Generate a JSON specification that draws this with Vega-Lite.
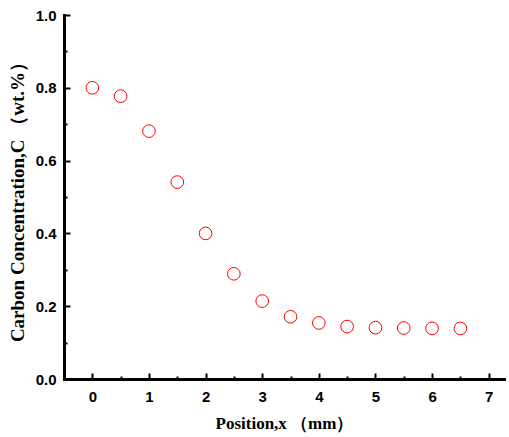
{
  "$schema": "https://vega.github.io/schema/vega-lite/v6.json",
  "autosize": "none",
  "width": 440,
  "height": 364,
  "padding": {"left": 64, "top": 15, "right": 5, "bottom": 58},
  "background": "white",
  "config": {
    "view": {"stroke": null},
    "axis": {"grid": false, "domainColor": "black", "domainWidth": 3, "domainCap": "square", "tickColor": "black", "tickWidth": 2,
      "labelFont": "Liberation Sans", "labelFontWeight": "bold", "labelFontSize": 15, "labelColor": "black",
      "titleFont": "Liberation Serif", "titleFontWeight": "bold", "titleColor": "black"}
  },
  "data": {"values": [
    {"x": 0, "c": 0.800},
    {"x": 0.5, "c": 0.777},
    {"x": 1, "c": 0.681},
    {"x": 1.5, "c": 0.541},
    {"x": 2, "c": 0.400},
    {"x": 2.5, "c": 0.289},
    {"x": 3, "c": 0.214},
    {"x": 3.5, "c": 0.171},
    {"x": 4, "c": 0.154},
    {"x": 4.5, "c": 0.144},
    {"x": 5, "c": 0.141},
    {"x": 5.5, "c": 0.140},
    {"x": 6, "c": 0.139},
    {"x": 6.5, "c": 0.139}
  ]},
  "resolve": {"axis": {"x": "independent", "y": "independent"}},
  "layer": [
    {
      "mark": {"type": "point", "opacity": 0},
      "encoding": {
        "x": {"field": "x", "type": "quantitative",
          "scale": {"domain": [-0.5, 7.27], "nice": false, "zero": false},
          "axis": {"orient": "bottom", "offset": -3, "values": [0.5,1.5,2.5,3.5,4.5,5.5,6.5], "labels": false, "title": null, "domain": false, "tickSize": 3}},
        "y": {"field": "c", "type": "quantitative",
          "scale": {"domain": [0, 1], "nice": false},
          "axis": {"orient": "left", "offset": -3, "values": [0.1,0.3,0.5,0.7,0.9], "labels": false, "title": null, "domain": false, "tickSize": 3}}
      }
    },
    {
      "mark": {"type": "point", "opacity": 0},
      "encoding": {
        "x": {"field": "x", "type": "quantitative",
          "axis": {"orient": "bottom", "offset": -6, "values": [0,1,2,3,4,5,6,7], "labels": false, "title": null, "domain": false, "tickSize": 6}},
        "y": {"field": "c", "type": "quantitative",
          "axis": {"orient": "left", "offset": -6, "values": [0,0.2,0.4,0.6,0.8,1.0], "labels": false, "title": null, "domain": false, "tickSize": 6}}
      }
    },
    {
      "mark": {"type": "point", "shape": "circle", "filled": false, "stroke": "#ff0000", "strokeWidth": 1, "size": 160, "opacity": 1},
      "encoding": {
        "x": {"field": "x", "type": "quantitative",
          "axis": {"orient": "bottom", "values": [0,1,2,3,4,5,6,7], "title": "Position,x （mm）", "ticks": false,
            "labelPadding": 10, "titleFontSize": 17, "titlePadding": 11}},
        "y": {"field": "c", "type": "quantitative",
          "axis": {"orient": "left", "values": [0, 0.2, 0.4, 0.6, 0.8, 1.0], "format": ".1f", "title": "Carbon Concentration,C （wt.%）", "ticks": false,
            "labelPadding": 8, "titleFontSize": 19, "titlePadding": 8}}
      }
    }
  ]
}
